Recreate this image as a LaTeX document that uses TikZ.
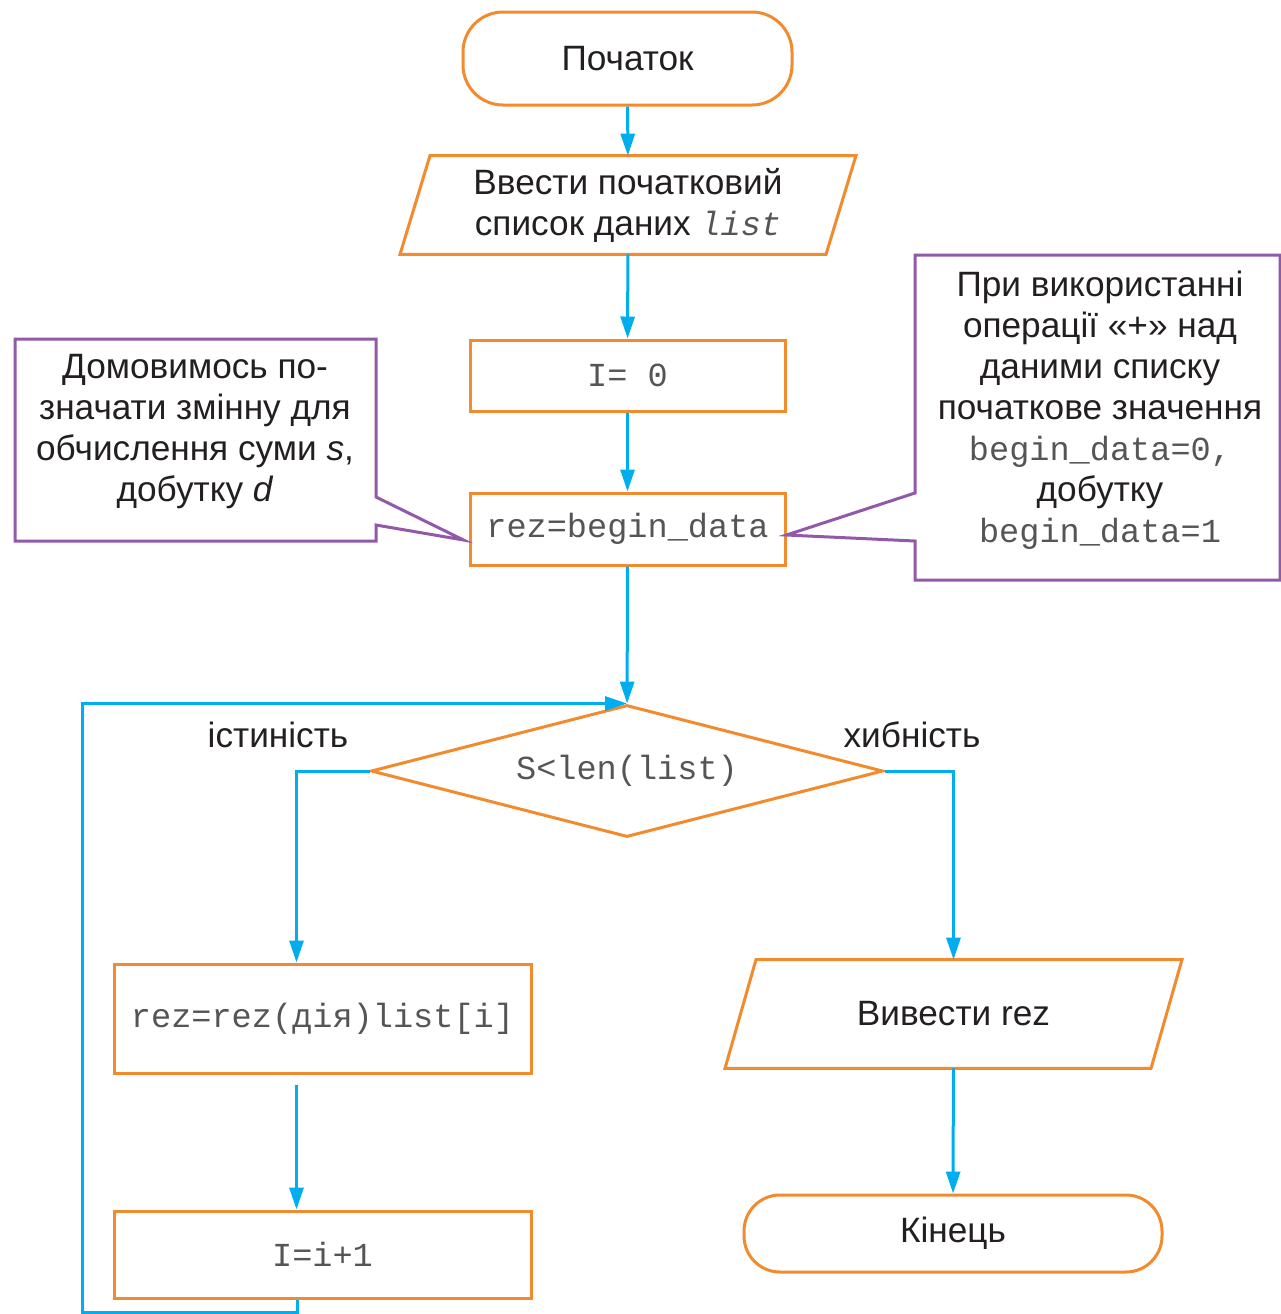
\documentclass[tikz,border=0pt]{standalone}
\usepackage{fontspec}
\setmainfont{Liberation Sans}
\setmonofont{Liberation Mono}
\usetikzlibrary{shapes.geometric,arrows.meta,calc}
\definecolor{flowor}{HTML}{F28A2E}
\definecolor{flowbl}{HTML}{00AEEF}
\definecolor{flowpu}{HTML}{9159A8}
\definecolor{txtcol}{HTML}{231F20}
\definecolor{monocol}{HTML}{555555}
\newcommand\cdfont{\fontsize{16.8}{20.5}\selectfont\ttfamily\color{monocol}}
\begin{document}
\begin{tikzpicture}[x=0.5pt,y=-0.5pt,
  font=\fontsize{17.6}{20.5}\selectfont, text=txtcol,
  box/.style={draw=flowor, line width=1.5pt, inner sep=0pt},
  term/.style={box, rounded corners=20pt},
  para/.style={draw=flowor, line width=1.5pt, line join=miter},
  arr/.style={draw=flowbl, line width=1.5pt, -{Triangle[width=7pt,length=11pt]}},
  note/.style={draw=flowpu, line width=1.5pt, line join=miter},
  lbl/.style={fill=white, inner sep=2pt}]
\useasboundingbox (0,0) rectangle (1281,1314);

% flow nodes
\node[term, minimum width=164.5pt, minimum height=46.5pt] (start) at (627.5,58.5) {Початок};
\node[inner sep=0pt, minimum height=49pt, align=center] (inp) at (628,205)
  {Ввести початковий\\список даних {\cdfont\itshape list}};
\draw[para] ([xshift=-99pt]inp.north) -- ([xshift=114pt]inp.north)
  -- ([xshift=99pt]inp.south) -- ([xshift=-114pt]inp.south) -- cycle;
\node[box, minimum width=157.5pt, minimum height=35.5pt] (init) at (627.5,375.5) {\cdfont I= 0};
\node[box, minimum width=157.5pt, minimum height=36pt] (rez) at (627.5,529) {\cdfont rez=begin\_data};
\node[draw=flowor, line width=1.5pt, shape=diamond, shape aspect=3.88, inner sep=0pt,
  minimum width=256pt, minimum height=66pt] (dia) at (627,771) {\cdfont S<len(list)};
\node[box, minimum width=208.5pt, minimum height=54.5pt] (calc) at (322.5,1018.5) {\cdfont rez=rez(дія)list[i]};
\node[box, minimum width=208.5pt, minimum height=43.5pt] (inc) at (322.5,1254.5) {\cdfont I=i+1};
\node[inner sep=0pt, minimum height=54pt] (out) at (953.5,1014) {Вивести rez};
\draw[para] ([xshift=-98.75pt]out.north) -- ([xshift=114.25pt]out.north)
  -- ([xshift=98.75pt]out.south) -- ([xshift=-114.25pt]out.south) -- cycle;
\node[term, rounded corners=18pt, minimum width=209pt, minimum height=38.5pt] (end) at (953,1233.5) {Кінець};

% branch labels
\node[lbl] (ltrue) at (278,735) {істиність};
\node[lbl] (lfalse) at (912,735) {хибність};

% connectors
\coordinate (loopcorner) at (82,1312);
\draw[arr] (start) -- (inp);
\draw[arr] (inp) -- (init);
\draw[arr] (init) -- (rez);
\draw[arr] (rez) -- (dia);
\draw[arr] (dia.west) -| ([xshift=-13pt]calc.north);
\draw[arr, shorten <=5pt] ([xshift=-13pt]calc.south) -- ([xshift=-13pt]inc.north);
\draw[arr] ([xshift=-12.5pt]inc.south) |- (loopcorner) |- (dia.north);
\draw[arr] (dia.east) -| (out.north);
\draw[arr] (out) -- (end);

% callouts
\node[align=center] (note1) at (195,432)
  {Домовимось по-\\значати змінну для\\обчислення суми \textit{s},\\добутку \textit{d}};
\draw[note] (376,497) -- ([shift={(-2.5pt,-5.5pt)}]rez.west) -- (376,525)
  -- (376,541) -- (15,541) -- (15,339) -- (376,339) -- cycle;
\node[align=center] (note2) at (1100,410)
  {При використанні\\операції «+» над\\даними списку\\початкове значення\\{\cdfont begin\_data=0,}\\добутку\\{\cdfont begin\_data=1}};
\draw[note] (915,493) -- ([shift={(0pt,-3pt)}]rez.east) -- (915,541)
  -- (915,580) -- (1280,580) -- (1280,255) -- (915,255) -- cycle;
\end{tikzpicture}
\end{document}
